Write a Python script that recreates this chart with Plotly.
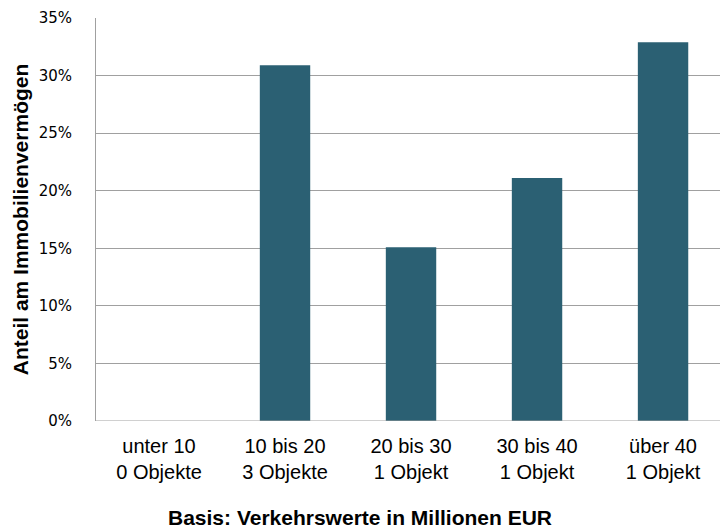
import plotly.graph_objects as go

categories = ["unter 10<br>0 Objekte", "10 bis 20<br>3 Objekte", "20 bis 30<br>1 Objekt",
              "30 bis 40<br>1 Objekt", "über 40<br>1 Objekt"]
values = [0.0, 0.309, 0.151, 0.211, 0.329]
y_ticks = [0, 0.05, 0.10, 0.15, 0.20, 0.25, 0.30, 0.35]
y_ticklabels = ["0%", "5%", "10%", "15%", "20%", "25%", "30%", "35%"]

bar_color = "#2b6073"
grid_color = "#a0a0a0"
font_family = "Liberation Sans, Arial, sans-serif"

fig = go.Figure(go.Bar(
    x=list(range(len(categories))),
    y=values,
    marker=dict(color=bar_color, line=dict(width=0)),
    width=0.4,
))

fig.update_layout(
    width=720, height=529,
    margin=dict(l=96, r=0, t=18, b=108),
    plot_bgcolor="white", paper_bgcolor="white",
    showlegend=False,
    font=dict(family=font_family, color="#000000"),
    title=dict(text="<b>Basis: Verkehrswerte in Millionen EUR</b>",
               font=dict(size=21, family=font_family, color="#000000"),
               x=0.5, xref="container", xanchor="center",
               y=0.021, yref="container", yanchor="middle"),
    xaxis=dict(
        tickmode="array",
        tickvals=list(range(len(categories))),
        ticktext=categories,
        range=[-0.5, 4.452],
        showgrid=False, zeroline=False,
        showline=False,
        ticks="",
        tickfont=dict(size=20),
        ticklabelstandoff=11,
    ),
    yaxis=dict(
        range=[0, 0.35],
        tickmode="array",
        tickvals=y_ticks,
        ticktext=y_ticklabels,
        showgrid=True, gridcolor=grid_color, gridwidth=1,
        zeroline=False,
        showline=True, linecolor=grid_color, linewidth=1,
        ticks="",
        tickfont=dict(size=15, family="DejaVu Sans, Verdana, sans-serif"),
        ticklabelstandoff=20,
        title=dict(text="<b>Anteil am Immobilienvermögen</b>",
                   font=dict(size=21), standoff=4),
    ),
)
fig.add_shape(type="line", xref="paper", yref="y", x0=0, x1=1, y0=0, y1=0,
              line=dict(color=grid_color, width=1))

fig.write_html("out.html")
